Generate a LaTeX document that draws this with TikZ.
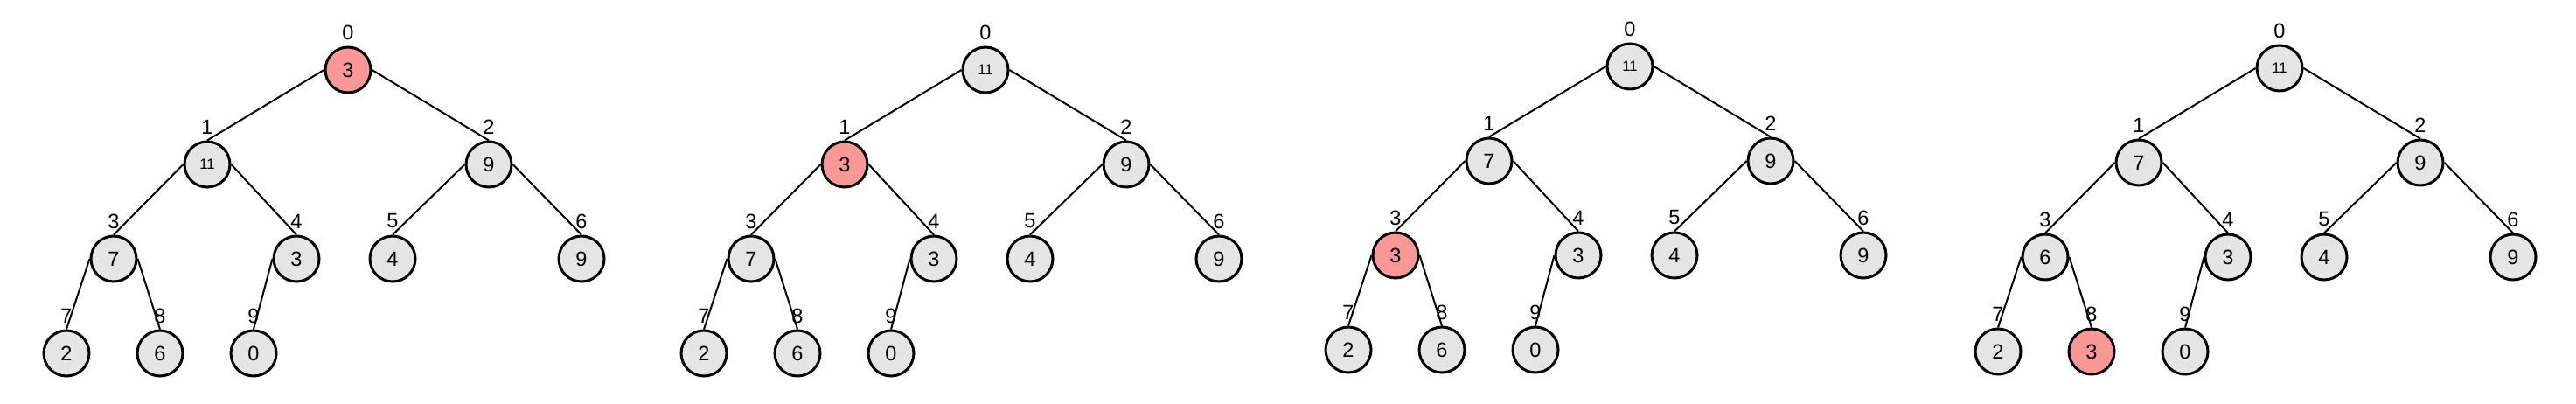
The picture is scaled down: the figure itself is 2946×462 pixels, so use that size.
\documentclass[tikz,border=0pt]{standalone}
\usepackage{fontspec}
\setmainfont{Liberation Sans}
\usetikzlibrary{calc}
\definecolor{keygray}{RGB}{229,229,229}
\definecolor{keyred}{RGB}{250,152,152}

% one heap: #1 root position, #2 name prefix, #3 keys, #4 index drawn in red
\newcommand{\heapdraw}[4]{
  \begin{scope}[shift={#1}]
    \foreach \i/\px/\py in {0/0/0, 1/-161/108, 2/161/108, 3/-268/216, 4/-59/216,
                            5/51/216, 6/267/216, 7/-322/324, 8/-215/324, 9/-108/324}{
      \pgfmathtruncatemacro{\key}{{#3}[\i]}
      \ifnum\i=#4 \def\keyfill{keyred}\else\def\keyfill{keygray}\fi
      \ifnum\key>9 \def\keysize{\fontsize{9.5}{11}\selectfont}\else\def\keysize{}\fi
      \node (#2\i) at (\px,\py) [heapnode, fill=\keyfill] {\keysize\key};
      \node (#2i\i) at (\px,\py-43) [idx] {\i};
    }
    \foreach \p/\c/\s in {0/1/west, 0/2/east, 1/3/west, 1/4/east, 2/5/west,
                          2/6/east, 3/7/west, 3/8/east, 4/9/west}
      \draw [edge] (#2\p.\s) -- (#2\c.north);
  \end{scope}
}

\begin{document}
\begin{tikzpicture}[x=0.02cm, y=-0.02cm,
    heapnode/.style={circle, draw, line width=0.06cm, minimum size=1.04cm,
                     inner sep=0pt, font=\fontsize{13.4}{16}\selectfont},
    idx/.style={inner sep=0pt, font=\fontsize{13.4}{16}\selectfont},
    edge/.style={line width=0.04cm}]
  \useasboundingbox (0,0) rectangle (2946,462);

  \heapdraw{(398,80)}{a}{3,11,9,7,3,4,9,2,6,0}{0}
  \heapdraw{(1127,80)}{b}{11,3,9,7,3,4,9,2,6,0}{1}
  \heapdraw{(1864,76)}{c}{11,7,9,3,3,4,9,2,6,0}{3}
  \heapdraw{(2607,78)}{d}{11,7,9,6,3,4,9,2,3,0}{8}
\end{tikzpicture}
\end{document}
